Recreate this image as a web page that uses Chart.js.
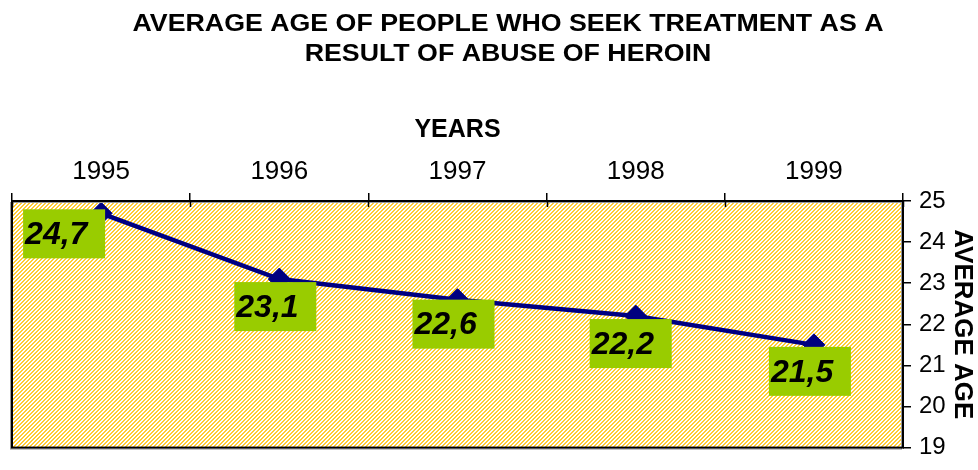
<!DOCTYPE html>
<html>
<head>
<meta charset="utf-8">
<script src="https://cdn.jsdelivr.net/npm/chart.js@4.4.1/dist/chart.umd.min.js"></script>
<style>
  html, body { margin: 0; padding: 0; background: #fff; }
  #wrap { width: 978px; height: 470px; }
</style>
</head>
<body>
<div id="wrap"><canvas id="c" width="978" height="470"></canvas></div>
<script>
/* Average age of heroin treatment seekers, 1995-1999: one line, top year axis,
   right age axis, hatched yellow plot, green value boxes. */
var YEARS = ['1995', '1996', '1997', '1998', '1999'];
var AGE   = [24.7, 23.1, 22.6, 22.2, 21.5];
var AGE_LABELS = ['24,7', '23,1', '22,6', '22,2', '21,5'];
var TITLE_LINES = ['AVERAGE AGE OF PEOPLE WHO SEEK TREATMENT AS A', 'RESULT OF ABUSE OF HEROIN'];

var FONT = "'Liberation Sans', Arial, sans-serif";
var NAVY = '#000080', GREEN = '#99CC00';

function hatch() {   // yellow / white diagonal fill like the Excel pattern
  var t = document.createElement('canvas');
  t.width = 4; t.height = 4;
  var g = t.getContext('2d');
  g.fillStyle = '#ffffff'; g.fillRect(0, 0, 4, 4);
  g.fillStyle = '#FFCC33';
  for (var i = 0; i < 4; i++) {
    g.fillRect(i, 3 - i, 1, 1);
    g.fillRect((i + 1) % 4, 3 - i, 1, 1);
  }
  return t;
}

var framePlugin = {
  id: 'frame',
  beforeDatasetsDraw: function (chart) {
    var a = chart.chartArea, ctx = chart.ctx;
    ctx.save();
    ctx.fillStyle = ctx.createPattern(hatch(), 'repeat');
    ctx.fillRect(a.left, a.top, a.right - a.left, a.bottom - a.top);
    ctx.restore();
  },
  afterDatasetsDraw: function (chart) {
    var a = chart.chartArea, ctx = chart.ctx, xs = chart.scales.x;
    ctx.save();
    ctx.strokeStyle = '#9a9a9a'; ctx.lineWidth = 1;   // soft shadow
    ctx.strokeRect(a.left - 1.5, a.top + 1.5, a.right - a.left, a.bottom - a.top);
    ctx.strokeStyle = '#000'; ctx.lineWidth = 2;
    ctx.strokeRect(a.left, a.top, a.right - a.left, a.bottom - a.top);
    // year tick marks continue a little below the top edge
    var step = (xs.right - xs.left) / YEARS.length;
    ctx.lineWidth = 1.5;
    for (var i = 0; i <= YEARS.length; i++) {
      var x = Math.round(xs.left + i * step) + 0.5;
      ctx.beginPath(); ctx.moveTo(x, a.top); ctx.lineTo(x, a.top + 6); ctx.stroke();
    }
    // value boxes
    var o = chart.options.plugins.frame, meta = chart.getDatasetMeta(0);
    ctx.font = 'italic bold 32px ' + FONT;
    ctx.textBaseline = 'middle'; ctx.textAlign = 'left';
    meta.data.forEach(function (pt, k) {
      var bx = pt.x + o.dx[k], by = pt.y + o.dy[k];
      ctx.fillStyle = GREEN; ctx.fillRect(bx, by, 82, 49);
      ctx.fillStyle = '#000'; ctx.fillText(AGE_LABELS[k], bx + 2, by + 26);
    });
    ctx.restore();
  },
  afterDraw: function (chart) {
    // the title is set wide in the original, so stretch it to the same span
    var ctx = chart.ctx;
    ctx.save();
    ctx.font = 'bold 23px ' + FONT;
    ctx.fillStyle = '#000'; ctx.textAlign = 'center'; ctx.textBaseline = 'middle';
    var sx = 751 / ctx.measureText(TITLE_LINES[0]).width;
    ctx.translate(508, 0);
    ctx.scale(sx, 1);
    ctx.fillText(TITLE_LINES[0], 0, 25);
    ctx.fillText(TITLE_LINES[1], 0, 55);
    ctx.restore();
  }
};

new Chart(document.getElementById('c').getContext('2d'), {
  type: 'line',
  data: {
    labels: YEARS,
    datasets: [{
      data: AGE, borderColor: NAVY, borderWidth: 4.5, tension: 0, fill: false,
      pointStyle: 'rectRot', pointRadius: 11, pointBackgroundColor: NAVY, pointBorderColor: NAVY,
      pointBorderWidth: 1
    }]
  },
  plugins: [framePlugin],
  options: {
    responsive: false, animation: false, devicePixelRatio: 1,
    layout: { padding: { top: 72, left: 10, right: 0, bottom: 13 } },
    plugins: {
      legend: { display: false }, tooltip: { enabled: false }, title: { display: false },
      frame: { dx: [-78, -45, -45, -46, -45], dy: [-4, 3, 0, 3, 2] }
    },
    scales: {
      x: {
        type: 'category', position: 'top', offset: true,
        border: { display: false },
        grid: { offset: true, drawOnChartArea: false, tickLength: 8, color: '#000', lineWidth: 1.5 },
        ticks: { color: '#000', font: { family: FONT, size: 26 }, padding: 6, maxRotation: 0 },
        title: { display: true, text: 'YEARS', color: '#000', font: { family: FONT, size: 25, weight: 'bold' },
                 padding: { top: 43, bottom: 0 } },
        afterFit: function (s) { s.height = 129; }
      },
      y: {
        position: 'right', min: 19, max: 25,
        border: { display: false },
        grid: { drawOnChartArea: false, tickLength: 8, color: '#000', lineWidth: 1.5 },
        ticks: { stepSize: 1, color: '#000', font: { family: FONT, size: 24 }, padding: 8 },
        title: { display: true, text: 'AVERAGE AGE', color: '#000', font: { family: FONT, size: 26, weight: 'bold' },
                 padding: { top: 0, bottom: 0 } },
        afterFit: function (s) { s.width = 75; }
      }
    }
  }
});
</script>
</body>
</html>
